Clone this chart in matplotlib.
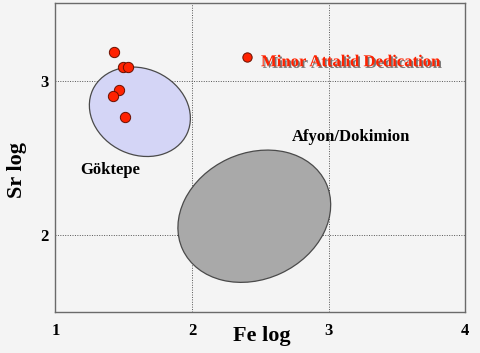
import matplotlib
matplotlib.use("Agg")
import matplotlib.pyplot as plt
from matplotlib.patches import Ellipse
from matplotlib.transforms import Affine2D
import matplotlib.patheffects as pe

# Data
gok_fe = [1.429, 1.497, 1.531, 1.463, 1.423, 1.509]
gok_sr = [3.184, 3.089, 3.089, 2.937, 2.902, 2.765]
attalid_fe = [2.401]
attalid_sr = [3.150]

# Ellipses: center (Fe, Sr), semi-axes (px in reference), angle (deg)
gok_center = (1.618, 2.799)
gok_axes = (52, 43)
gok_angle = -25
afy_center = (2.456, 2.124)
afy_axes = (79, 63)
afy_angle = 25

xticks = [1, 2, 3, 4]
yticks = [2, 3]
xlim = (1, 4)
ylim = (1.505, 3.5)

plt.rcParams['font.family'] = ['Liberation Serif', 'DejaVu Serif']
plt.rcParams['font.weight'] = 'bold'

bg = '#f4f4f4'
fig = plt.figure(figsize=(4.8, 3.53), dpi=100, facecolor=bg)
ax = fig.add_axes([0.1156, 0.1161, 0.9690 - 0.1156, 0.9907 - 0.1161])
ax.set_facecolor(bg)
ax.set_xlim(*xlim)
ax.set_ylim(*ylim)

# pixels per data unit (display)
fig.canvas.draw()
bb = ax.get_window_extent()
sx = bb.width / (xlim[1] - xlim[0])
sy = bb.height / (ylim[1] - ylim[0])

def add_ell(center, axes, angle, fc):
    e = Ellipse((0, 0), 2 * axes[0], 2 * axes[1], angle=angle,
                facecolor=fc, edgecolor='#4a4a4a', linewidth=0.9, zorder=2)
    e.set_transform(Affine2D().scale(1 / sx, 1 / sy).translate(*center) + ax.transData)
    ax.add_patch(e)

add_ell(gok_center, gok_axes, gok_angle, '#d4d5f6')
add_ell(afy_center, afy_axes, afy_angle, '#a9a9a9')

ax.scatter(gok_fe, gok_sr, s=55, c='#ff2200', edgecolors='#6a1000', linewidths=0.7, zorder=4)
ax.scatter(attalid_fe, attalid_sr, s=45, c='#ff2200', edgecolors='#6a1000', linewidths=0.7, zorder=4)

ax.set_xticks(xticks)
ax.set_yticks(yticks)
ax.set_xticklabels([str(t) for t in xticks], fontsize=12, fontweight='bold')
ax.set_yticklabels([str(t) for t in yticks], fontsize=12, fontweight='bold')
ax.tick_params(length=0, pad=8, axis='x')
ax.tick_params(length=0, pad=5, axis='y')
for lbl in ax.get_xticklabels():
    lbl.set_x(lbl.get_position()[0])
ax.grid(True, linestyle=(0, (1, 1.5)), color='#555555', linewidth=0.7, zorder=1)
ax.set_axisbelow(True)
for s in ax.spines.values():
    s.set_color('#6a6a6a')
    s.set_linewidth(1.0)

ax.set_xlabel('Fe log', fontsize=16, fontweight='bold')
ax.set_ylabel('Sr log', fontsize=16, fontweight='bold')
ax.xaxis.set_label_coords(0.503, -0.045)
ax.yaxis.set_label_coords(-0.07, 0.46)

ax.text(1.18, 2.42, 'Göktepe', fontsize=12, fontweight='bold', va='center', ha='left', zorder=5)
ax.text(2.733, 2.635, 'Afyon/Dokimion', fontsize=12, fontweight='bold', va='center', ha='left', zorder=5)
ax.text(2.505, 3.119, 'Minor Attalid Dedication', fontsize=12, fontweight='bold', color='#ff2200',
        va='center', ha='left', zorder=5,
        path_effects=[pe.withSimplePatchShadow(offset=(1.2, -1.2), shadow_rgbFace='#444444', alpha=0.7)])

fig.savefig('out.png', dpi=100, facecolor=bg)
